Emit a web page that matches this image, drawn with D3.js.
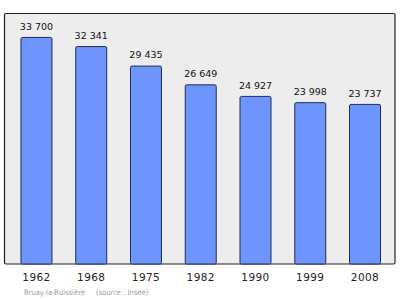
<!DOCTYPE html>
<html>
<head>
<meta charset="utf-8">
<script src="https://cdn.jsdelivr.net/npm/d3@7"></script>
<style>
  body { margin: 0; background: #fff; }
</style>
</head>
<body>
<div id="chart"></div>
<script>
//------------------------------------------------------------------------------
// Data
//------------------------------------------------------------------------------

var years = ["1962", "1968", "1975", "1982", "1990", "1999", "2008"];
var population = [33700, 32341, 29435, 26649, 24927, 23998, 23737];
var footer_place = "Bruay-la-Buissière";
var footer_source = "(source : Insee)";

//------------------------------------------------------------------------------
// Plotting
//------------------------------------------------------------------------------

function plot_population(div_id) {
	var width = 400, height = 299;
	var frame = {left: 4.5, top: 13.5, right: 395, bottom: 264};

	var svg = d3.select(div_id)
		.append("svg")
		.attr("width", width)
		.attr("height", height);

	// grey plotting area
	svg.append("rect")
		.attr("x", frame.left)
		.attr("y", frame.top)
		.attr("width", frame.right - frame.left)
		.attr("height", frame.bottom - frame.top)
		.attr("rx", 1.5)
		.attr("fill", "#ededed")
		.attr("stroke", "#222")
		.attr("stroke-width", 1.2);

	var xscale = d3.scaleBand()
		.domain(years)
		.range([9.1, 392.4])
		.paddingInner(0.434)
		.paddingOuter(0.217);

	var yscale = d3.scaleLinear()
		.domain([0, 37260])
		.range([frame.bottom, frame.top]);

	var fmt = function(v) { return d3.format(",")(v).replace(/,/g, " "); };

	svg.selectAll("rect.bar")
		.data(population)
		.enter().append("rect")
		.attr("class", "bar")
		.attr("x", function(d, i) { return xscale(years[i]); })
		.attr("y", function(d) { return yscale(d); })
		.attr("width", xscale.bandwidth())
		.attr("height", function(d) { return frame.bottom - yscale(d); })
		.attr("rx", 1.5)
		.attr("fill", "#6e95fd")
		.attr("stroke", "#1f2d55")
		.attr("stroke-width", 1);

	svg.selectAll("text.val")
		.data(population)
		.enter().append("text")
		.attr("class", "val")
		.attr("x", function(d, i) { return xscale(years[i]) + xscale.bandwidth() / 2; })
		.attr("y", function(d) { return yscale(d) - 7.7; })
		.attr("text-anchor", "middle")
		.attr("font-family", "DejaVu Sans, sans-serif")
		.attr("font-size", "9.5px")
		.attr("fill", "#111")
		.text(fmt);

	// year labels along the bottom
	var x_axis = d3.axisBottom(xscale).tickSize(0).tickPadding(10);
	var axis_g = svg.append("g")
		.attr("transform", "translate(0," + frame.bottom + ")")
		.call(x_axis);
	axis_g.select(".domain").remove();
	axis_g.selectAll("text")
		.attr("font-family", "DejaVu Sans, sans-serif")
		.attr("font-size", "10.5px")
		.attr("letter-spacing", "0.4px")
		.attr("fill", "#222");

	svg.append("text")
		.attr("x", 24)
		.attr("y", 295)
		.attr("font-family", "DejaVu Sans Condensed, DejaVu Sans, sans-serif")
		.attr("font-size", "7.5px")
		.attr("fill", "#a0a0a0")
		.text(footer_place);

	svg.append("text")
		.attr("x", 96)
		.attr("y", 295)
		.attr("font-family", "DejaVu Sans Condensed, DejaVu Sans, sans-serif")
		.attr("font-size", "7.5px")
		.attr("fill", "#a0a0a0")
		.text(footer_source);
}

//------------------------------------------------------------------------------
// Main
//------------------------------------------------------------------------------

function main() {
	plot_population("#chart");
}

window.addEventListener('load', main, false);
</script>
</body>
</html>
